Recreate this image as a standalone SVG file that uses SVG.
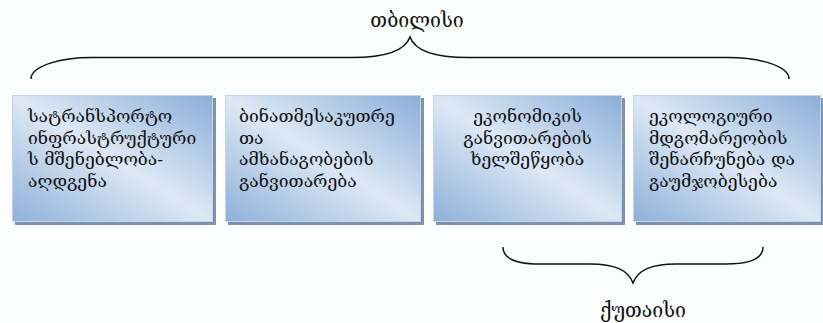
<svg xmlns="http://www.w3.org/2000/svg" width="823" height="323" viewBox="0 0 823 323">
<defs>
<linearGradient id="g" x1="1" y1="0" x2="0" y2="1">
<stop offset="0" stop-color="#8aaed8"/>
<stop offset="0.5" stop-color="#dde8f5"/>
<stop offset="1" stop-color="#8eb1d9"/>
</linearGradient>
<style>
.shadow{fill:#7e93ab}
.box{fill:url(#g);stroke:#c3d5ea;stroke-width:1}
.t{font-family:"DejaVu Serif","DejaVu Sans",serif;font-size:17.5px;fill:#111}
.lbl{font-family:"DejaVu Serif","DejaVu Sans",serif;font-size:19.5px;fill:#111}
.brace{fill:none;stroke:#111;stroke-width:1.5}
</style>
</defs>
<rect width="823" height="323" fill="#fbfdfd"/>
<g id="connectors">
<path class="brace" d="M31,79 C31,66 60,57.5 92,57.5 L352,57.5 C385,57.5 405,51 410,37 C415,51 435,57.5 468,57.5 L728,57.5 C760,57.5 789,66 789,79"/>
<path class="brace" d="M503,247 C503,258 515,264 540,264 L590,264 C615,264 628,270 633,283 C638,270 651,264 676,264 L726,264 C751,264 763,258 763,247"/>
</g>
<g id="label-tbilisi"><text class="lbl" x="417" y="27" text-anchor="middle">თბილისი</text></g>
<g id="label-kutaisi"><text class="lbl" x="643" y="317" text-anchor="middle">ქუთაისი</text></g>
<g id="node1">
<rect class="shadow" x="15" y="98" width="201" height="127"/>
<rect class="box" x="12.5" y="95.5" width="200" height="126"/>
<text class="t" x="28" y="122">სატრანსპორტო</text>
<text class="t" x="28" y="143.5">ინფრასტრუქტური</text>
<text class="t" x="28" y="165">ს მშენებლობა-</text>
<text class="t" x="28" y="186.5">აღდგენა</text>
</g>
<g id="node2">
<rect class="shadow" x="228" y="98" width="196" height="127"/>
<rect class="box" x="225.5" y="95.5" width="195" height="126"/>
<text class="t" x="239" y="122">ბინათმესაკუთრე</text>
<text class="t" x="239" y="143.5">თა</text>
<text class="t" x="239" y="165">ამხანაგობების</text>
<text class="t" x="239" y="186.5">განვითარება</text>
</g>
<g id="node3">
<rect class="shadow" x="436" y="98" width="189" height="127"/>
<rect class="box" x="433.5" y="95.5" width="188" height="126"/>
<text class="t" x="527.5" y="122" text-anchor="middle">ეკონომიკის</text>
<text class="t" x="527.5" y="143.5" text-anchor="middle">განვითარების</text>
<text class="t" x="527.5" y="165" text-anchor="middle">ხელშეწყობა</text>
</g>
<g id="node4">
<rect class="shadow" x="636" y="98" width="187" height="127"/>
<rect class="box" x="633.5" y="95.5" width="187" height="126"/>
<text class="t" x="649" y="122">ეკოლოგიური</text>
<text class="t" x="649" y="143.5">მდგომარეობის</text>
<text class="t" x="649" y="165">შენარჩუნება და</text>
<text class="t" x="649" y="186.5">გაუმჯობესება</text>
</g>
</svg>
